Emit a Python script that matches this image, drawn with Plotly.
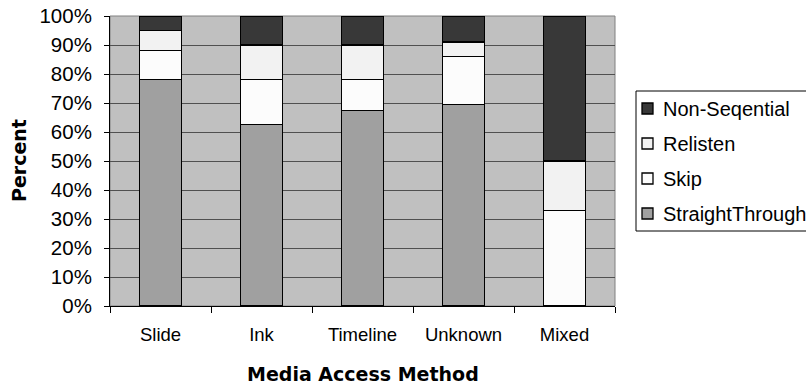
import plotly.graph_objects as go

# Share of listening behaviour (percent) for each media access method
methods = ["Slide", "Ink", "Timeline", "Unknown", "Mixed"]
straight_through = [78, 62.5, 67.5, 69.5, 0]
skip = [10, 15.5, 10.5, 16.5, 33]
relisten = [7, 12, 12, 5, 17]
non_sequential = [5, 10, 10, 9, 50]

y_ticks = [0, 10, 20, 30, 40, 50, 60, 70, 80, 90, 100]
y_tick_text = [f"{v}%" for v in y_ticks]

# (name, values, fill colour), stacked bottom to top
series = [
    ("StraightThrough", straight_through, "#a0a0a0"),
    ("Skip", skip, "#fcfcfc"),
    ("Relisten", relisten, "#f2f2f2"),
    ("Non-Seqential", non_sequential, "#383838"),
]

# Plot area in pixels (left, right, top, bottom) within the 806x387 page
PL, PR, PT, PB = 110, 615, 16, 306
W, H = 806, 387


def px_x(x):
    return (x - PL) / (PR - PL)


def px_y(y):
    return (PB - y) / (PB - PT)


fig = go.Figure()
for name, vals, color in series:
    fig.add_trace(go.Bar(
        x=methods, y=vals, name=name,
        marker=dict(color=color, line=dict(color="black", width=1.3)),
    ))

font_family = "Liberation Sans, Arial, sans-serif"

# Boxed legend at the right, top of the stack listed first
shapes = [
    dict(type="rect", xref="paper", yref="paper", x0=0, x1=1, y0=0, y1=1,
         line=dict(color="#808080", width=1), layer="below"),
    dict(type="rect", xref="paper", yref="paper",
         x0=px_x(636), x1=px_x(830), y0=px_y(231), y1=px_y(91),
         line=dict(color="black", width=1), fillcolor="white"),
]
annotations = []
legend_rows = list(reversed(series))
for i, (name, _, color) in enumerate(legend_rows):
    cy = 108.5 + 35 * i
    shapes.append(dict(
        type="rect", xref="paper", yref="paper",
        x0=px_x(642), x1=px_x(653), y0=px_y(cy + 5.5), y1=px_y(cy - 5.5),
        line=dict(color="black", width=1.3), fillcolor=color,
    ))
    annotations.append(dict(
        text=name, xref="paper", yref="paper", x=px_x(661), y=px_y(cy),
        xanchor="left", yanchor="middle", showarrow=False,
        font=dict(size=20, family=font_family),
    ))

annotations += [
    dict(text="<b>Percent</b>", xref="paper", yref="paper",
         x=0, y=0.5, xshift=-91, xanchor="center", yanchor="middle",
         textangle=-90, showarrow=False,
         font=dict(size=19, family="DejaVu Sans, sans-serif")),
    dict(text="<b>Media Access Method</b>", xref="paper", yref="paper",
         x=0.5, y=0, yshift=-68, xanchor="center", yanchor="middle",
         showarrow=False,
         font=dict(size=19, family="DejaVu Sans, sans-serif")),
]

fig.update_layout(
    width=W, height=H,
    barmode="stack", bargap=0.58,
    paper_bgcolor="white", plot_bgcolor="#c0c0c0",
    margin=dict(l=PL, r=W - PR, t=PT, b=H - PB, autoexpand=False),
    font=dict(family=font_family, color="black"),
    showlegend=False,
    xaxis=dict(
        showline=True, linecolor="black", linewidth=1,
        ticks="outside", ticklen=6, tickcolor="black", tickson="boundaries",
        tickfont=dict(size=18.5), ticklabelstandoff=12,
        showgrid=False,
    ),
    yaxis=dict(
        range=[0, 100], tickvals=y_ticks, ticktext=y_tick_text,
        showline=True, linecolor="black", linewidth=1,
        ticks="outside", ticklen=5, tickcolor="black",
        tickfont=dict(size=20.5), ticklabelstandoff=8,
        showgrid=True, gridcolor="#505050", gridwidth=1,
        zeroline=False,
    ),
    shapes=shapes,
    annotations=annotations,
)

fig.write_html("out.html")
